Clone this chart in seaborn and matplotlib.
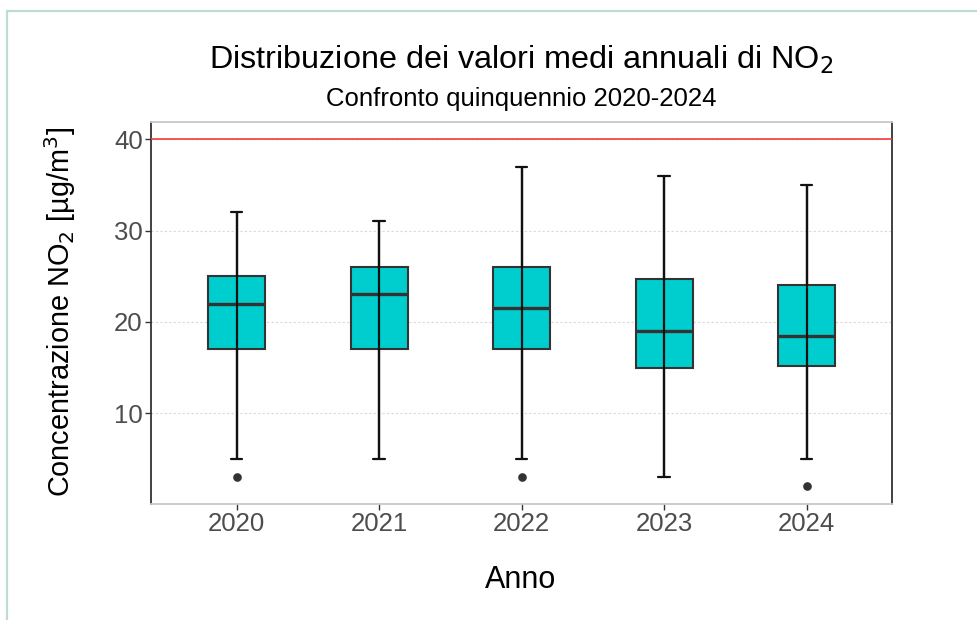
import matplotlib
matplotlib.use("Agg")
import matplotlib.pyplot as plt
import seaborn as sns
from matplotlib.patches import Rectangle

# ---- data ----
years = ["2020", "2021", "2022", "2023", "2024"]
whisker_low = [5, 5, 5, 3, 5]
q1 = [17, 17, 17, 15, 15.2]
median = [22, 23, 21.5, 19, 18.5]
q3 = [25, 26, 26, 24.7, 24]
whisker_high = [32, 31, 37, 36, 35]
outliers = [[3], [], [3], [], [2]]
limit_value = 40
y_ticks = [10, 20, 30, 40]

sns.set_theme(style="white")
plt.rcParams["font.family"] = ["Liberation Sans", "DejaVu Sans"]

fig = plt.figure(figsize=(9.78, 6.2), dpi=100)
ax = fig.add_axes([151 / 978, 1 - 503.5 / 620, (892 - 151) / 978, (503.5 - 122) / 620])

# outer frame of the image
fig.patches.append(Rectangle((7.5 / 978, -0.05), 1.2, 0.05 + (620 - 11) / 620,
                             transform=fig.transFigure, fill=False, edgecolor="#bfdcd4",
                             linewidth=1.6, clip_on=False))

positions = list(range(len(years)))
stats = []
for i, y in enumerate(years):
    stats.append(dict(label=y, whislo=whisker_low[i], q1=q1[i], med=median[i],
                      q3=q3[i], whishi=whisker_high[i], fliers=outliers[i]))

ax.bxp(stats, positions=positions, widths=0.4, capwidths=0.08,
       patch_artist=True, showfliers=True,
       boxprops=dict(facecolor="#00CDCD", edgecolor="#333333", linewidth=1.5),
       medianprops=dict(color="#333333", linewidth=2.4),
       whiskerprops=dict(color="#111111", linewidth=1.6),
       capprops=dict(color="#111111", linewidth=1.6),
       flierprops=dict(marker="o", markersize=5.2, markerfacecolor="#333333",
                       markeredgecolor="#333333"),
       zorder=3)
# error-bar style whisker drawn through the box, as in the reference
ax.vlines(positions, whisker_low, whisker_high, color="#111111", linewidth=1.6, zorder=5)

ax.axhline(limit_value, color="#f23a3a", linewidth=1.2, zorder=4)

ax.set_xlim(-0.6, len(years) - 0.4)
ax.set_ylim(0.1, 41.9)
ax.set_yticks(y_ticks)
ax.set_xticks(positions)
ax.set_xticklabels(years)
ax.yaxis.grid(True, color="#d8d8d8", linestyle=(0, (2, 2)), linewidth=0.8)
ax.xaxis.grid(False)
ax.set_axisbelow(True)

for s in ["left", "right"]:
    ax.spines[s].set_color("#333333")
    ax.spines[s].set_linewidth(1.3)
for s in ["top", "bottom"]:
    ax.spines[s].set_color("#c8c8c8")
    ax.spines[s].set_linewidth(1.3)

ax.tick_params(axis="both", which="major", labelsize=18.5, labelcolor="#4d4d4d",
               color="#333333", length=4, width=1, left=True, bottom=True, pad=2)

fig.text(60 / 978, 1 - 312 / 620, "Concentrazione NO$_2$ [µg/m$^3$]", rotation=90,
         ha="center", va="center", fontsize=20.8, color="black")
fig.text(521 / 978, 1 - 580 / 620, "Anno", ha="center", va="center",
         fontsize=22, color="black")

fig.text(521 / 978, 1 - 60 / 620, "Distribuzione dei valori medi annuali di NO$_2$",
         ha="center", va="center", fontsize=23.3, color="black")
fig.text(521 / 978, 1 - 99 / 620, "Confronto quinquennio 2020-2024",
         ha="center", va="center", fontsize=18.5, color="black")

fig.savefig("out.png", dpi=100)
